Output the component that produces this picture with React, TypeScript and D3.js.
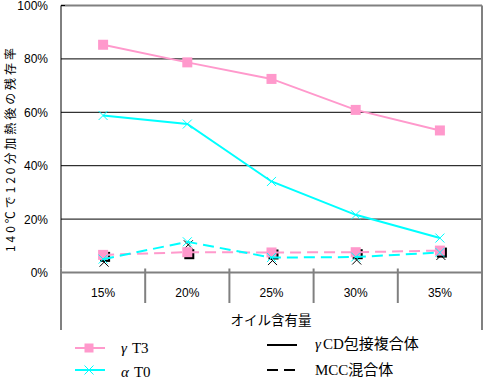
import React from "react";
import * as d3 from "d3";

const categories = ["15%", "20%", "25%", "30%", "35%"];
const yTicks = [0, 0.2, 0.4, 0.6, 0.8, 1.0];
const gammaCD = [0.853, 0.787, 0.725, 0.609, 0.532];
const alphaCD = [0.588, 0.556, 0.341, 0.216, 0.129];
const gammaMCC = [0.066, 0.076, 0.075, 0.076, 0.082];
const alphaMCC = [0.05, 0.115, 0.056, 0.058, 0.075];

const PINK = "#FF99CC";
const CYAN = "#00FFFF";
const GREY = "#808080";
const SANS = "'Liberation Sans', Arial, 'Noto Sans CJK JP', sans-serif";
const CJK = "'Noto Sans CJK JP', sans-serif";
const SERIF = "'Liberation Serif', 'Times New Roman', serif";

export default function App() {
  const W = 484, H = 381;
  const left = 61, right = 482, top = 5.5, bottom = 272.5;
  const x = d3.scaleBand<string>().domain(categories).range([left, right]);
  const cx = (c: string) => (x(c) as number) + x.bandwidth() / 2;
  const y = d3.scaleLinear().domain([0, 1]).range([bottom, top]);
  const line = d3
    .line<number>()
    .x((_, i) => cx(categories[i]))
    .y((d) => y(d));

  const square = (px: number, py: number, fill: string, key: string, s = 10) => (
    <rect key={key} x={px - s / 2} y={py - s / 2} width={s} height={s} fill={fill} />
  );
  const cross = (px: number, py: number, stroke: string, key: string, s = 4.5) => (
    <path
      key={key}
      d={`M${px - s},${py - s}L${px + s},${py + s}M${px - s},${py + s}L${px + s},${py - s}`}
      stroke={stroke}
      strokeWidth={1}
      fill="none"
    />
  );

  const bounds = [left, ...categories.slice(1).map((c) => x(c) as number), right];

  return (
    <svg width={W} height={H} style={{ position: "absolute", left: 0, top: 0 }}>
      <rect x={0} y={0} width={W} height={H} fill="#fff" />
      {/* gridlines */}
      {yTicks.slice(1, -1).map((t) => (
        <line key={t} x1={left} x2={right} y1={y(t)} y2={y(t)} stroke="#000" strokeWidth={1} />
      ))}
      {/* frame */}
      <line x1={left} x2={right} y1={top} y2={top} stroke={GREY} strokeWidth={2} />
      <line x1={right} x2={right} y1={top} y2={330} stroke={GREY} strokeWidth={2} />
      <line x1={left} x2={left} y1={bottom - 4} y2={330} stroke={GREY} strokeWidth={2} />
      <line x1={left} x2={left} y1={top} y2={bottom - 4} stroke="#000" strokeWidth={1} />
      <line x1={left} x2={left + 4} y1={top} y2={top} stroke="#000" strokeWidth={1} />
      <line x1={left} x2={right} y1={bottom} y2={bottom} stroke={GREY} strokeWidth={2} />
      {bounds.slice(1, -1).map((b, i) => (
        <line key={i} x1={b} x2={b} y1={bottom - 4} y2={303} stroke={GREY} strokeWidth={2} />
      ))}
      {/* y tick labels */}
      {yTicks.map((t) => (
        <text
          key={t}
          x={48}
          y={y(t) + 4.5}
          textAnchor="end"
          fontFamily={SANS}
          fontSize={12}
          fill="#000"
        >
          {d3.format(".0%")(t)}
        </text>
      ))}
      {/* category labels */}
      {categories.map((c) => (
        <text key={c} x={cx(c)} y={297} textAnchor="middle" fontFamily={SANS} fontSize={12} fill="#000">
          {c}
        </text>
      ))}
      <text x={271} y={325} textAnchor="middle" fontFamily={CJK} fontSize={13.5} fill="#000">
        オイル含有量
      </text>
      <text
        transform="translate(15,150) rotate(-90)"
        textAnchor="middle"
        fontFamily={CJK}
        fontSize={12}
        textLength={204}
        lengthAdjust="spacing"
        fill="#000"
      >
        140℃で120分加熱後の残存率
      </text>

      {/* solid series */}
      <path d={line(gammaCD) || ""} fill="none" stroke={PINK} strokeWidth={2} />
      {gammaCD.map((v, i) => square(cx(categories[i]), y(v), PINK, "gc" + i))}
      <path d={line(alphaCD) || ""} fill="none" stroke={CYAN} strokeWidth={2} />
      {alphaCD.map((v, i) => cross(cx(categories[i]), y(v), CYAN, "ac" + i))}

      {/* dashed series */}
      {gammaMCC.map((v, i) => square(cx(categories[i]) + 2, y(v) + 2, "#000", "gsh" + i))}
      {alphaMCC.map((v, i) => cross(cx(categories[i]) + 1, y(v) + 3, "#000", "ash" + i))}
      <path d={line(gammaMCC) || ""} fill="none" stroke={PINK} strokeWidth={2} strokeDasharray="11,6" />
      {gammaMCC.map((v, i) => square(cx(categories[i]), y(v), PINK, "gm" + i))}
      <path d={line(alphaMCC) || ""} fill="none" stroke={CYAN} strokeWidth={2} strokeDasharray="11,6" />
      {alphaMCC.map((v, i) => cross(cx(categories[i]), y(v), CYAN, "am" + i))}

      {/* legend */}
      <line x1={75} x2={105} y1={348} y2={348} stroke={PINK} strokeWidth={2} />
      {square(89, 348, PINK, "lg1", 9)}
      <text x={121} y={353} fontFamily={SERIF} fontSize={15} fill="#000">
        <tspan fontStyle="italic">γ</tspan>
        <tspan dx={5}>T3</tspan>
      </text>
      <line x1={75} x2={105} y1={370} y2={370} stroke={CYAN} strokeWidth={2} />
      {cross(89, 370, CYAN, "lg2")}
      <text x={121} y={377} fontFamily={SERIF} fontSize={15} fill="#000">
        <tspan fontStyle="italic">α</tspan>
        <tspan dx={5}>T0</tspan>
      </text>
      <line x1={267} x2={297} y1={345} y2={345} stroke="#000" strokeWidth={2} />
      <text x={315} y={349} fontFamily={SERIF} fontSize={15} fill="#000">
        <tspan fontStyle="italic">γ</tspan>
        <tspan dx={2}>CD</tspan>
        <tspan fontFamily={CJK}>包接複合体</tspan>
      </text>
      <line x1={267} x2={297} y1={370} y2={370} stroke="#000" strokeWidth={2} strokeDasharray="11,6" />
      <text x={315} y={375} fontFamily={SERIF} fontSize={15} fill="#000">
        MCC<tspan fontFamily={CJK}>混合体</tspan>
      </text>
    </svg>
  );
}
